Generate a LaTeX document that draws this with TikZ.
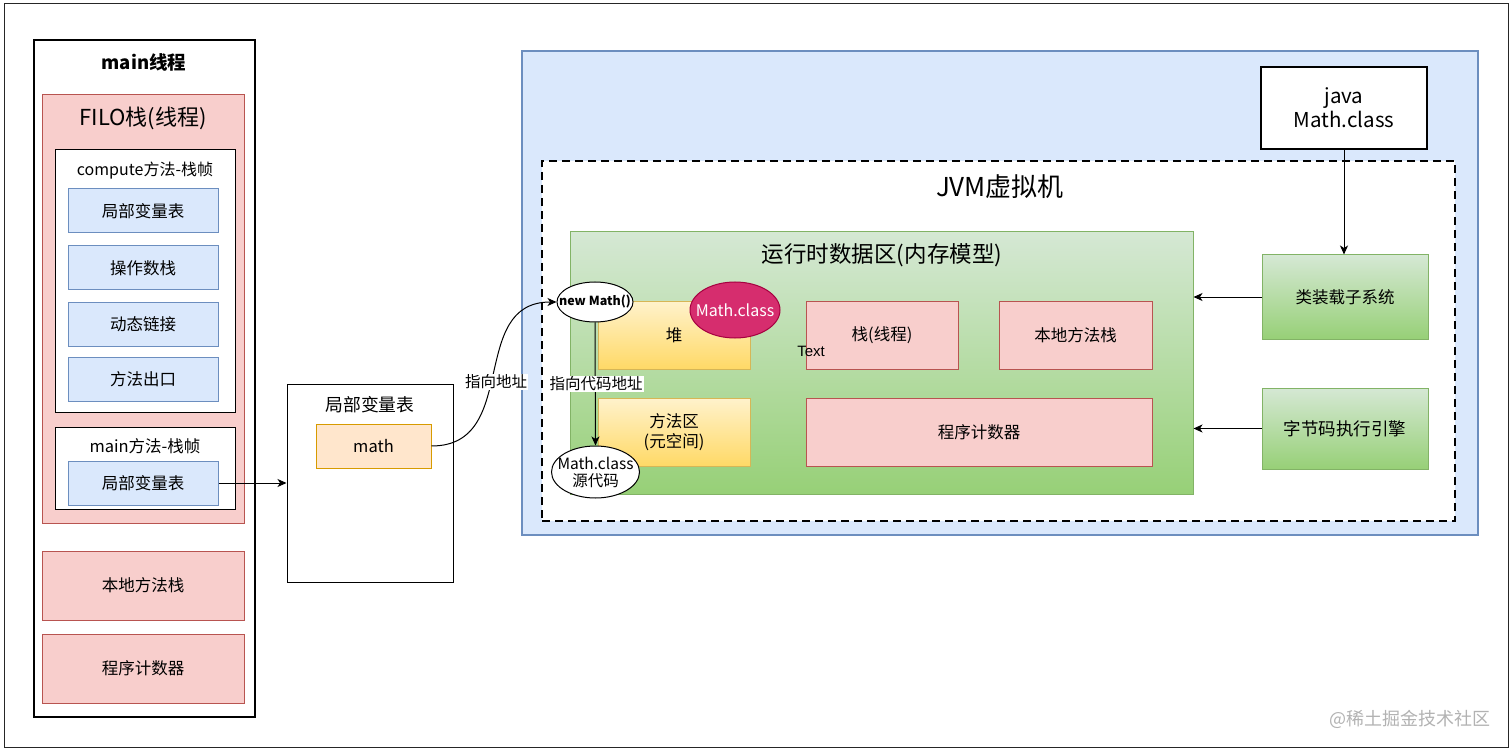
\documentclass[tikz,border=0pt]{standalone}
\usepackage{fontspec}
\setmainfont{Noto Sans CJK SC}
\newfontfamily\helv{Liberation Sans}
\usetikzlibrary{arrows.meta,shapes.geometric}
\definecolor{redF}{HTML}{F8CECC}
\definecolor{redS}{HTML}{B85450}
\definecolor{blueF}{HTML}{DAE8FC}
\definecolor{blueS}{HTML}{6C8EBF}
\definecolor{orgF}{HTML}{FFE6CC}
\definecolor{orgS}{HTML}{D79B00}
\definecolor{ylwT}{HTML}{FFF2CC}
\definecolor{ylwB}{HTML}{FFD966}
\definecolor{ylwS}{HTML}{D6B656}
\definecolor{grnT}{HTML}{D5E8D4}
\definecolor{grnB}{HTML}{97D077}
\definecolor{grnS}{HTML}{82B366}
\definecolor{magF}{HTML}{D62D6E}
\definecolor{magS}{HTML}{A50040}
\begin{document}
\begin{tikzpicture}[x=1pt,y=-1pt,
  fs/.style 2 args={font=\fontsize{#1}{#2}\selectfont},
  sz/.style 2 args={minimum width=#1pt, minimum height=#2pt},
  bx/.style={draw, rectangle, inner sep=0pt, line width=1pt},
  redbox/.style={bx, fill=redF, draw=redS},
  bluebox/.style={bx, fill=blueF, draw=blueS},
  ylwbox/.style={bx, top color=ylwT, bottom color=ylwB, draw=ylwS},
  grnbox/.style={bx, top color=grnT, bottom color=grnB, draw=grnS},
  whitebox/.style={bx, fill=white, draw=black},
  ell/.style={ellipse, draw=black, fill=white, line width=1pt, inner sep=0pt},
  arr/.style={-{Stealth[length=9pt,width=8pt,inset=2.5pt]}, line width=1pt},
  lbl/.style={fill=white, inner sep=1pt}
]
\useasboundingbox (0,0) rectangle (1512,751);
\node[bx, draw=black!85, sz={1504}{743}] (frame) at (756,375.5) {};

% ---------- left: main thread ----------
\node[bx, draw=black, line width=1.3pt, sz={221}{677}] (mainthread) at (144.5,378.5) {};
\node[font=\fontsize{18.5}{22}\selectfont\bfseries] (tmain) at (144,62) {main线程};
\node[redbox, sz={202}{428}] (filo) at (143,309) {};
\node[fs={22}{26}] (tfilo) at (143,118) {FILO栈(线程)};
\node[whitebox, sz={180}{262}] (compute) at (145,281) {};
\node[fs={16}{19}] (tcompute) at (145,171) {compute方法-栈帧};
\node[bluebox, sz={150}{44}, fs={16.5}{19}] (b1) at (143,211) {局部变量表};
\node[bluebox, sz={150}{44}, fs={16.5}{19}] (b2) at (143,268) {操作数栈};
\node[bluebox, sz={150}{44}, fs={16.5}{19}] (b3) at (143,324) {动态链接};
\node[bluebox, sz={150}{44}, fs={16.5}{19}] (b4) at (143,379.5) {方法出口};
\node[whitebox, sz={180}{82}] (mainframe) at (145,468) {};
\node[fs={16.5}{19}] (tmf) at (145,446) {main方法-栈帧};
\node[bluebox, sz={150}{44}, fs={16.5}{19}] (b5) at (143,483) {局部变量表};
\node[redbox, sz={202}{69}, fs={16.5}{19}] (ns1) at (143,585.5) {本地方法栈};
\node[redbox, sz={202}{69}, fs={16.5}{19}] (pc1) at (143,668.5) {程序计数器};

% ---------- middle ----------
\node[whitebox, sz={166}{198}] (mid) at (370,483) {};
\node[fs={17.8}{21}] (tmid) at (370,405) {局部变量表};
\node[bx, fill=orgF, draw=orgS, sz={115}{44}, fs={16.5}{19}] (math) at (373.5,446) {math};
\draw[arr] (b5.east) -- (mid.west);

% ---------- JVM ----------
\node[bx, fill=blueF, draw=blueS, line width=2pt, sz={956}{484}] (jvmouter) at (1000,293) {};
\node[bx, fill=white, draw=black, line width=2pt, dash pattern=on 8pt off 5pt, sz={913}{360}] (jvm) at (998.5,341) {};
\node[fs={26}{30}] (tjvm) at (1000,187) {JVM虚拟机};
\node[bx, draw=black, fill=white, line width=2pt, sz={166}{82}, align=center, fs={20.5}{24}] (java) at (1344,108) {java\\Math.class};
\node[grnbox, sz={623}{262}] (rda) at (881.5,363) {};
\node[fs={22.5}{26}] (trda) at (882,255) {运行时数据区(内存模型)};
\node[ylwbox, sz={152}{68}, fs={16.5}{19}] (heap) at (674,335) {堆};
\node[ylwbox, sz={152}{68}, fs={16.5}{20}, align=center] (ma) at (674,432) {方法区\\(元空间)};
\node[redbox, sz={152}{68}, fs={16.5}{19}] (stk) at (882,335) {栈(线程)};
\node[redbox, sz={153}{68}, fs={16.5}{19}] (nstk) at (1075.5,335) {本地方法栈};
\node[redbox, sz={346}{68}, fs={16.5}{19}] (pc2) at (979,432) {程序计数器};
\node[ellipse, fill=magF, draw=magS, line width=1pt, inner sep=0pt, sz={90}{56},
  label={[text=white, fs={16}{19}]center:Math.class}] (mc) at (735,310) {};
\node[ell, sz={76}{40},
  label={[font=\fontsize{12.5}{14}\selectfont\bfseries]center:new Math()}] (newm) at (595,302) {};
\node[ell, sz={88}{52},
  label={[align=center, fs={15.5}{17}]center:Math.class\\源代码}] (src) at (595.5,472) {};
\node[font=\helv\fontsize{15}{18}\selectfont] (txt) at (811,351) {Text};
\node[grnbox, sz={166}{84}, fs={16.5}{19}] (loader) at (1345,297) {类装载子系统};
\node[grnbox, sz={166}{81}, fs={17.5}{20}] (engine) at (1345,428.5) {字节码执行引擎};

\draw[arr] (java.south) -- (java.south |- loader.north);
\draw[arr] (loader.west) -- (loader.west -| rda.east);
\draw[arr] (engine.west) -- (engine.west -| rda.east);
\draw[arr] (newm.south) -- (src.north);
\node[lbl, fs={15.5}{18}] (l2) at (596,384) {指向代码地址};
\draw[arr] (math.east) to[out=0,in=180,looseness=1.2] (newm.west);
\node[lbl, fs={15.5}{18}] (l1) at (496,382) {指向地址};

\node[text=black!30, fs={18}{21}] (wm) at (1410,719) {@稀土掘金技术社区};
\end{tikzpicture}
\end{document}
